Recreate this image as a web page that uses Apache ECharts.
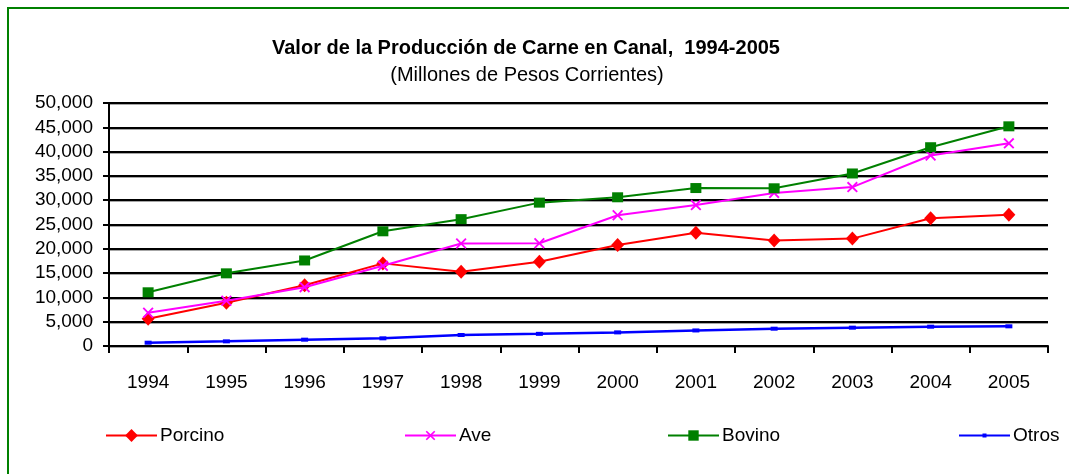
<!DOCTYPE html>
<html>
<head>
<meta charset="utf-8">
<script src="https://cdn.jsdelivr.net/npm/echarts@6/dist/echarts.min.js"></script>
<style>
html,body{margin:0;padding:0;background:#fff;}
#c{width:1069px;height:474px;}
</style>
</head>
<body>
<div id="c"></div>
<script>
var years = ['1994','1995','1996','1997','1998','1999','2000','2001','2002','2003','2004','2005'];
var porcino = [5600, 8900, 12500, 17000, 15300, 17350, 20800, 23300, 21700, 22100, 26300, 27000];
var ave = [6850, 9300, 12100, 16500, 21100, 21150, 26900, 29000, 31500, 32700, 39200, 41700];
var bovino = [11050, 14950, 17600, 23600, 26100, 29500, 30600, 32500, 32450, 35500, 40900, 45200];
var otros = [680, 960, 1300, 1580, 2260, 2500, 2800, 3200, 3560, 3770, 3970, 4050];
var yTicks = { min: 0, max: 50000, interval: 5000 };
var titleText = 'Valor de la Producción de Carne en Canal,  1994-2005';
var subText = '(Millones de Pesos Corrientes)';
var seriesNames = ['Porcino', 'Ave', 'Bovino', 'Otros'];

var FONT = '"Liberation Sans", Arial, sans-serif';
var xPath = 'path://M0,1.2L1.2,0L5,3.8L8.8,0L10,1.2L6.2,5L10,8.8L8.8,10L5,6.2L1.2,10L0,8.8L3.8,5Z';

var chart = echarts.init(document.getElementById('c'), null, {renderer: 'canvas'});

function legendAt(name, left, h) {
  return {
    data: [name], left: left, top: 426, itemWidth: 51, itemHeight: h, itemGap: 0,
    textStyle: {fontFamily: FONT, fontSize: 19, color: '#000', padding: [0,0,0,-2]},
    padding: 0, selectedMode: false
  };
}

chart.setOption({
  backgroundColor: '#fff',
  animation: false,
  graphic: [{
    type: 'polyline', silent: true,
    shape: {points: [[8, 480], [8, 8], [1080, 8]]},
    style: {stroke: '#008000', lineWidth: 2, fill: null}
  }],
  title: [
    {text: titleText, left: 521, textAlign: 'center', top: 33,
     textStyle: {fontFamily: FONT, fontSize: 20, fontWeight: 'bold', color: '#000'}},
    {text: subText, left: 522, textAlign: 'center', top: 60,
     textStyle: {fontFamily: FONT, fontSize: 20, fontWeight: 'normal', color: '#000'}}
  ],
  legend: [
    legendAt(seriesNames[0], 105, 16),
    legendAt(seriesNames[1], 404, 12),
    legendAt(seriesNames[2], 667, 13),
    legendAt(seriesNames[3], 958, 5)
  ],
  grid: {left: 109, right: 21, top: 103, bottom: 128, containLabel: false},
  xAxis: {
    type: 'category', data: years, boundaryGap: true,
    axisLine: {lineStyle: {color: '#000', width: 2}},
    axisTick: {show: true, length: 7, inside: false, lineStyle: {color: '#000', width: 2}},
    axisLabel: {fontFamily: FONT, fontSize: 19, color: '#000', margin: 27},
    splitLine: {show: false}
  },
  yAxis: {
    type: 'value', min: yTicks.min, max: yTicks.max, interval: yTicks.interval,
    axisLine: {show: true, lineStyle: {color: '#000', width: 2}},
    axisTick: {show: true, length: 6, lineStyle: {color: '#000', width: 2}},
    axisLabel: {fontFamily: FONT, fontSize: 19, color: '#000', margin: 16,
      formatter: function (v) { return v.toLocaleString('en-US'); }},
    splitLine: {show: true, lineStyle: {color: '#000', width: 2,
      shadowColor: 'rgba(0,0,0,0.35)', shadowOffsetY: 1, shadowBlur: 0}}
  },
  series: [
    {name: seriesNames[0], type: 'line', data: porcino, symbol: 'diamond', symbolSize: [13, 14],
     showAllSymbol: true, color: '#ff0000', lineStyle: {width: 2, color: '#ff0000'},
     itemStyle: {color: '#ff0000'}, z: 2},
    {name: seriesNames[1], type: 'line', data: ave, symbol: xPath, symbolSize: 11,
     showAllSymbol: true, color: '#ff00ff', lineStyle: {width: 2, color: '#ff00ff'},
     itemStyle: {color: '#ff00ff'}, z: 3},
    {name: seriesNames[2], type: 'line', data: bovino, symbol: 'rect', symbolSize: [11, 10],
     showAllSymbol: true, color: '#008000', lineStyle: {width: 2, color: '#008000'},
     itemStyle: {color: '#008000'}, z: 4},
    {name: seriesNames[3], type: 'line', data: otros, symbol: 'rect', symbolSize: [7, 4],
     showAllSymbol: true, color: '#0000ff', lineStyle: {width: 2.5, color: '#0000ff'},
     itemStyle: {color: '#0000ff'}, z: 5}
  ]
});
</script>
</body>
</html>
